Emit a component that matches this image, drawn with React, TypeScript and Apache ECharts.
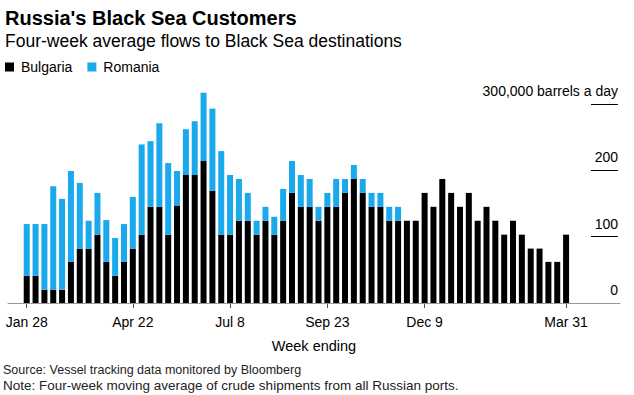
import React, { useEffect, useRef } from "react";
import * as echarts from "echarts";

const weeks = [
  "Jan 28", "Feb 4", "Feb 11", "Feb 18", "Feb 25", "Mar 4", "Mar 11", "Mar 18", "Mar 25", "Apr 1",
  "Apr 8", "Apr 15", "Apr 22", "Apr 29", "May 6", "May 13", "May 20", "May 27", "Jun 3", "Jun 10",
  "Jun 17", "Jun 24", "Jul 1", "Jul 8", "Jul 15", "Jul 22", "Jul 29", "Aug 5", "Aug 12", "Aug 19",
  "Aug 26", "Sep 2", "Sep 9", "Sep 16", "Sep 23", "Sep 30", "Oct 7", "Oct 14", "Oct 21", "Oct 28",
  "Nov 4", "Nov 11", "Nov 18", "Nov 25", "Dec 2", "Dec 9", "Dec 16", "Dec 23", "Dec 30", "Jan 6",
  "Jan 13", "Jan 20", "Jan 27", "Feb 3", "Feb 10", "Feb 17", "Feb 24", "Mar 3", "Mar 10", "Mar 17",
  "Mar 24", "Mar 31",
];

const shownWeekLabels = ["Jan 28", "Apr 22", "Jul 8", "Sep 23", "Dec 9", "Mar 31"];

// thousand barrels a day
const bulgaria = [
  41, 41, 20, 20, 20, 62, 82, 82, 103, 62,
  41, 62, 82, 103, 145, 145, 103, 147, 193, 193,
  214, 169, 103, 103, 124, 124, 103, 124, 103, 124,
  166, 145, 145, 124, 145, 145, 166, 187, 166, 145,
  145, 124, 124, 124, 124, 166, 145, 187, 166, 145,
  166, 124, 145, 124, 103, 124, 103, 82, 82, 62,
  62, 103,
];

const romania = [
  78, 78, 99, 156, 137, 137, 99, 42, 63, 63,
  57, 57, 78, 136, 99, 126, 108, 52, 69, 81,
  103, 124, 126, 90, 63, 42, 21, 21, 27, 48,
  48, 48, 42, 21, 21, 42, 21, 21, 21, 21,
  21, 21, 21, 0, 0, 0, 0, 0, 0, 0,
  0, 0, 0, 0, 0, 0, 0, 0, 0, 0,
  0, 0,
];

const yTicks = [0, 100, 200, 300];

const FONT = "'Liberation Sans', Arial, Helvetica, sans-serif";
const BLUE = "#1aa9ec";

export default function App() {
  const ref = useRef<HTMLDivElement>(null);

  useEffect(() => {
    if (!ref.current) return;
    const chart = echarts.init(ref.current, undefined, { renderer: "svg" });
    const showIdx = (i: number) => shownWeekLabels.includes(weeks[i]);

    chart.setOption({
      animation: false,
      backgroundColor: "#ffffff",
      textStyle: { fontFamily: FONT },
      title: {
        text: "Russia's Black Sea Customers",
        subtext: "Four-week average flows to Black Sea destinations",
        left: 0,
        top: 3,
        itemGap: 4,
        textStyle: { fontFamily: FONT, fontSize: 20, fontWeight: "bold", color: "#000" },
        subtextStyle: { fontFamily: FONT, fontSize: 17.5, color: "#000" },
      },
      legend: {
        left: 5,
        top: 60,
        padding: 0,
        icon: "rect",
        itemWidth: 9,
        itemHeight: 9,
        itemGap: 15,
        textStyle: { fontFamily: FONT, fontSize: 14, color: "#000", padding: [0, 0, 0, 2] },
        data: ["Bulgaria", "Romania"],
      },
      grid: [
        { left: 22.3, width: 548.2, top: 104, bottom: 92 },
        { left: 591, right: 16, top: 104, bottom: 92 },
        { left: 8, right: 14, top: 104, bottom: 92 },
      ],
      xAxis: [
        {
          gridIndex: 0,
          type: "category",
          data: weeks,
          boundaryGap: true,
          axisLine: { show: false },
          axisTick: {
            show: true,
            alignWithLabel: true,
            interval: (i: number) => showIdx(i),
            length: 5,
            lineStyle: { color: "#555" },
          },
          axisLabel: {
            interval: (i: number) => showIdx(i),
            fontFamily: FONT,
            fontSize: 14,
            color: "#000",
            margin: 12,
          },
        },
        {
          gridIndex: 1,
          type: "value",
          min: 0,
          max: 1,
          show: false,
        },
        {
          gridIndex: 2,
          type: "value",
          min: 0,
          max: 1,
          z: 5,
          axisLine: { show: true, lineStyle: { color: "#999", width: 1 } },
          axisTick: { show: false },
          axisLabel: { show: false },
          splitLine: { show: false },
          name: "Week ending",
          nameLocation: "middle",
          nameGap: 35,
          nameTextStyle: { fontFamily: FONT, fontSize: 14.5, color: "#000" },
        },
      ],
      yAxis: [
        { gridIndex: 0, type: "value", min: 0, max: 300, show: false },
        {
          gridIndex: 1,
          type: "value",
          position: "right",
          min: yTicks[0],
          max: yTicks[yTicks.length - 1],
          interval: 100,
          axisLine: { show: false },
          axisTick: { show: false },
          splitLine: { show: true, lineStyle: { color: "#000", width: 1 } },
          axisLabel: {
            inside: true,
            margin: 0,
            verticalAlign: "bottom",
            padding: [0, 0, 6, 0],
            fontFamily: FONT,
            fontSize: 14,
            color: "#000",
            formatter: (v: number) => (v === 300 ? "300,000 barrels a day" : String(v)),
          },
        },
        { gridIndex: 2, type: "value", min: 0, max: 1, show: false },
      ],
      series: [
        {
          name: "Bulgaria",
          type: "bar",
          stack: "total",
          xAxisIndex: 0,
          yAxisIndex: 0,
          barWidth: 6,
          clip: false,
          itemStyle: { color: "#000000" },
          data: bulgaria,
        },
        {
          name: "Romania",
          type: "bar",
          stack: "total",
          xAxisIndex: 0,
          yAxisIndex: 0,
          barWidth: 6,
          clip: false,
          itemStyle: { color: BLUE },
          data: romania,
        },
      ],
      graphic: [
        {
          type: "text",
          left: 3,
          top: 363,
          style: {
            text: "Source: Vessel tracking data monitored by Bloomberg",
            fontFamily: FONT,
            fontSize: 12.5,
            fill: "#222",
          },
        },
        {
          type: "text",
          left: 3,
          top: 378,
          style: {
            text: "Note: Four-week moving average of crude shipments from all Russian ports.",
            fontFamily: FONT,
            fontSize: 13.5,
            fill: "#222",
          },
        },
      ],
    });

    return () => chart.dispose();
  }, []);

  return (
    <div
      ref={ref}
      style={{ position: "fixed", left: 0, top: 0, width: 634, height: 395, background: "#fff" }}
    />
  );
}
